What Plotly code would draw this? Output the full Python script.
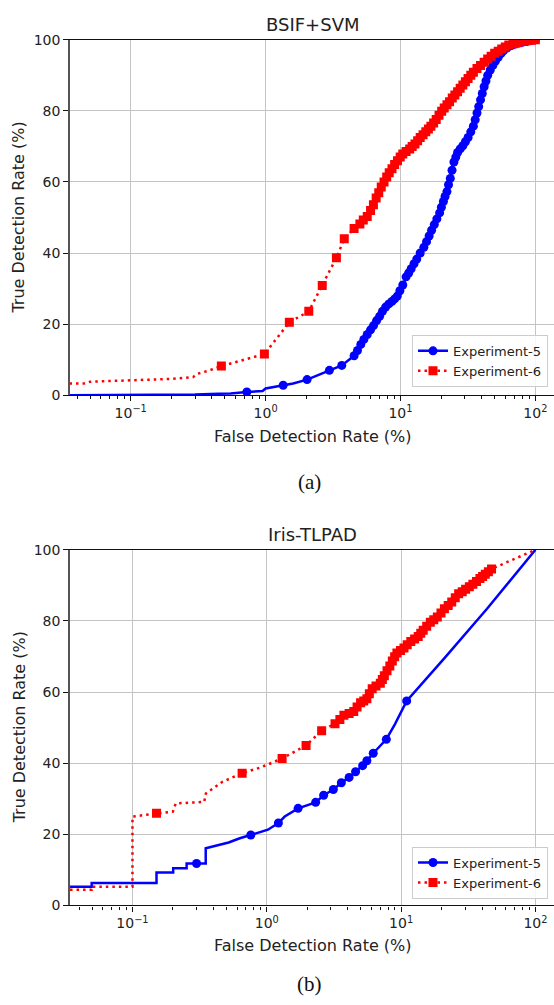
import plotly.graph_objects as go

# ---------------- data: (a) BSIF+SVM ----------------
a_exp5_fdr = [0.0352, 0.1, 0.2, 0.3, 0.45, 0.55, 0.726, 0.95, 1.0, 1.35, 1.6, 2.03, 2.5, 2.97, 3.67, 4.53,
              4.8, 5.08, 5.35, 5.67, 6.0, 6.31, 6.65, 7.0, 7.35, 7.76, 8.2, 8.65, 9.05, 9.47, 9.9, 10.4,
              11.0, 11.5, 12.0, 12.6, 13.2, 14.0, 14.9, 15.6, 16.3, 17.0, 17.8, 18.6, 19.5, 20.1, 20.8,
              21.4, 22.1, 22.7, 23.4, 24.1, 24.9, 25.7, 26.5, 27.7, 29.0, 30.3, 31.7, 33.2, 34.7, 35.8,
              36.9, 38.0, 39.2, 40.4, 41.7, 43.0, 44.3, 46.3, 48.4, 50.6, 53.0, 55.5, 58.0, 61.5, 65.5,
              69.5, 74.0, 80.0, 86.0, 92.5, 100.0]
a_exp5_tdr = [0.0, 0.0, 0.1, 0.2, 0.4, 0.5, 0.9, 1.2, 1.9, 2.8, 3.3, 4.4, 5.8, 7.0, 8.4, 11.1,
              12.6, 14.3, 15.7, 17.1, 18.4, 19.6, 21.0, 22.2, 23.6, 24.8, 25.7, 26.4, 27.1, 27.9, 29.4, 31.0,
              33.3, 34.4, 35.6, 37.0, 38.3, 40.0, 41.6, 43.2, 44.8, 46.4, 48.0, 49.6, 51.3, 52.9, 54.5,
              55.9, 57.3, 59.2, 61.0, 63.3, 65.6, 67.0, 68.3, 69.3, 70.2, 71.3, 72.5, 74.1, 75.7, 77.5,
              79.4, 81.2, 83.1, 84.9, 86.8, 88.4, 90.0, 91.5, 92.8, 94.0, 95.1, 96.1, 96.9, 97.7, 98.3,
              98.7, 99.0, 99.3, 99.5, 99.8, 100.0]
a_exp5_mark = [0, 0, 0, 0, 0, 0, 1, 0, 0, 1, 0, 1, 0, 1, 1, 1] + [1] * 67

a_exp6_fdr = [0.0352, 0.045, 0.05, 0.09, 0.2, 0.29, 0.31, 0.37, 0.47, 0.98, 1.5, 2.09, 2.63, 3.35, 3.83,
              4.53, 5.0, 5.3, 5.67, 6.0, 6.3, 6.6, 6.9, 7.2, 7.55, 7.9, 8.25, 8.65, 9.05, 9.5, 9.95, 10.4,
              11.0, 11.7, 12.2, 12.8, 13.4, 14.0, 14.7, 15.4, 16.1, 16.8, 17.6, 18.4, 19.3, 20.2, 21.1,
              22.1, 23.1, 24.2, 25.3, 26.5, 27.7, 29.0, 30.3, 31.7, 33.2, 34.7, 36.9, 39.2, 41.7, 44.3,
              47.0, 49.9, 53.0, 56.3, 59.8, 63.5, 68.5, 74.0, 80.0, 86.0, 93.0, 100.0]
a_exp6_tdr = [3.3, 3.3, 3.8, 4.2, 4.6, 5.1, 6.0, 6.8, 8.2, 11.6, 20.5, 23.6, 30.9, 38.7, 44.0,
              46.9, 48.2, 49.3, 50.3, 52.0, 53.6, 55.5, 57.0, 58.6, 60.0, 61.4, 62.6, 63.7, 64.9, 66.0, 67.0, 67.9,
              68.6, 69.3, 70.0, 70.7, 71.6, 72.5, 73.3, 74.1, 74.9, 75.7, 76.6, 77.6, 78.8, 79.9, 80.8,
              81.7, 82.6, 83.6, 84.5, 85.4, 86.4, 87.3, 88.2, 89.1, 90.0, 90.9, 91.9, 92.8, 93.7, 94.6,
              95.4, 96.2, 96.8, 97.4, 98.0, 98.5, 98.9, 99.2, 99.5, 99.7, 99.9, 100.0]
a_exp6_mark = [0, 0, 0, 0, 0, 0, 0, 0] + [1] * 66

# ---------------- data: (b) Iris-TLPAD ----------------
b_exp5_fdr = [0.0343, 0.0497, 0.0497, 0.151, 0.151, 0.201, 0.201, 0.253, 0.253, 0.30, 0.351, 0.351,
              0.41, 0.52, 0.63, 0.76, 1.02, 1.22, 1.36, 1.71, 2.31, 2.65, 3.13, 3.59, 4.1, 4.58, 5.17,
              5.56, 6.2, 7.76, 9.0, 11.0, 21.1, 43.6, 100.0]
b_exp5_tdr = [5.3, 5.3, 6.3, 6.3, 9.3, 9.3, 10.5, 10.5, 11.8, 11.8, 11.8, 16.1,
              16.7, 17.7, 18.9, 19.8, 21.3, 23.2, 25.0, 27.3, 29.0, 31.0, 32.6, 34.5, 36.0, 37.6, 39.3,
              40.7, 42.8, 46.7, 51.0, 57.5, 69.6, 83.4, 100.0]
b_exp5_mark = [0, 0, 0, 0, 0, 0, 0, 0, 0, 1, 0, 0,
               0, 0, 0, 1, 0, 1, 0, 1, 1, 1, 1, 1, 1, 1, 1,
               1, 1, 1, 0, 1, 0, 0, 0]

b_exp6_fdr = [0.0343, 0.0497, 0.0497, 0.1, 0.1, 0.151, 0.2, 0.21, 0.342, 0.352, 0.464, 0.655, 0.90,
              1.30, 1.96, 2.56, 3.22, 3.5, 3.75, 4.1, 4.44, 4.7, 4.99, 5.27, 5.56, 5.8, 6.09, 6.5, 7.0,
              7.25, 7.5, 7.85, 8.24, 8.6, 8.95, 9.3, 9.9, 10.5, 11.1, 11.8, 12.6, 13.4, 14.0, 14.6, 15.5,
              16.5, 17.5, 18.6, 19.8, 21.0, 22.4, 23.8, 25.3, 26.8, 28.5, 30.2, 32.2, 34.2, 36.4, 38.6,
              40.4, 42.3, 44.6, 47.1, 100.0]
b_exp6_tdr = [4.4, 4.4, 5.3, 5.3, 25.0, 25.9, 26.4, 28.7, 29.1, 31.5, 34.7, 37.2, 38.8,
              41.3, 45.0, 49.1, 51.1, 52.3, 53.5, 54.0, 54.5, 55.8, 57.0, 57.5, 58.1, 59.5, 60.9, 61.7, 62.5,
              63.5, 64.6, 66.0, 67.3, 68.7, 69.9, 71.0, 71.7, 72.4, 73.3, 74.2, 74.9, 75.6, 76.5, 77.4, 78.5,
              79.6, 80.3, 81.1, 82.2, 83.4, 84.3, 85.3, 86.5, 87.6, 88.2, 88.9, 89.6, 90.3, 91.1, 91.9,
              92.5, 93.1, 93.8, 94.6, 100.0]
b_exp6_mark = [0, 0, 0, 0, 0, 1, 0, 0, 0, 0, 0, 1, 0] + [1] * 51 + [0]

series_names = ["Experiment-5", "Experiment-6"]
panel_titles = ["BSIF+SVM", "Iris-TLPAD"]
panel_captions = ["(a)", "(b)"]
x_label = "False Detection Rate (%)"
y_label = "True Detection Rate (%)"
x_tickvals = [0.1, 1, 10, 100]
x_ticktext = ["10<sup>\u22121</sup>", "10<sup>0</sup>", "10<sup>1</sup>", "10<sup>2</sup>"]
y_tickvals = [0, 20, 40, 60, 80, 100]
x_minor = [m * 10 ** k for k in (-2, -1, 0, 1) for m in range(2, 10)]

# ---------------- layout constants (pixels) ----------------
W, H = 554, 1005
FONT = "DejaVu Sans"
TXT = "#222222"
BLUE = "#0000ff"
RED = "#ff0000"


def py(px):
    return 1 - px / H


def px_x(px):
    return px / W


fig = go.Figure()

panels = [
    dict(xa="x", ya="y", legend="legend",
         e5=(a_exp5_fdr, a_exp5_tdr, a_exp5_mark), e6=(a_exp6_fdr, a_exp6_tdr, a_exp6_mark)),
    dict(xa="x2", ya="y2", legend="legend2",
         e5=(b_exp5_fdr, b_exp5_tdr, b_exp5_mark), e6=(b_exp6_fdr, b_exp6_tdr, b_exp6_mark)),
]

styles = [
    dict(color=BLUE, dash="solid", symbol="circle", msize=9),
    dict(color=RED, dash="2.5px,4px", symbol="square", msize=9),
]

for p in panels:
    for key, st, name in zip(("e5", "e6"), styles, series_names):
        xs, ys, mk = p[key]
        fig.add_trace(go.Scatter(
            x=xs, y=ys, mode="lines", xaxis=p["xa"], yaxis=p["ya"], showlegend=False,
            line=dict(color=st["color"], width=2.5, dash=st["dash"]), hoverinfo="skip"))
        fig.add_trace(go.Scatter(
            x=[x for x, m in zip(xs, mk) if m], y=[y for y, m in zip(ys, mk) if m],
            mode="markers", xaxis=p["xa"], yaxis=p["ya"], showlegend=False,
            marker=dict(color=st["color"], size=st["msize"], symbol=st["symbol"], line=dict(width=0))))
        fig.add_trace(go.Scatter(
            x=[None], y=[None], mode="lines+markers", name=name, xaxis=p["xa"], yaxis=p["ya"],
            legend=p["legend"],
            line=dict(color=st["color"], width=2.5, dash=st["dash"]),
            marker=dict(color=st["color"], size=st["msize"], symbol=st["symbol"])))

xdom = [70 / W, 1.0]
common_x = dict(
    type="log", domain=xdom, tickvals=x_tickvals, ticktext=x_ticktext,
    showgrid=True, gridcolor="#c4c4c4", gridwidth=1,
    showline=True, linecolor="#111111", linewidth=1.4, mirror=True,
    ticks="outside", ticklen=5, tickcolor="#111111", tickwidth=1,
    tickfont=dict(family=FONT, size=14, color=TXT),
    minor=dict(tickvals=x_minor, ticks="outside", ticklen=3, tickcolor="#111111", tickwidth=1, showgrid=False),
    zeroline=False, fixedrange=True,
)
common_y = dict(
    range=[0, 100], tickvals=y_tickvals,
    showgrid=True, gridcolor="#c4c4c4", gridwidth=1,
    showline=True, linecolor="#555555", linewidth=1.6, mirror=False,
    ticks="outside", ticklen=5, tickcolor="#111111", tickwidth=1,
    tickfont=dict(family=FONT, size=14, color=TXT),
    zeroline=False, fixedrange=True,
)

fig.update_layout(
    width=W, height=H, margin=dict(l=0, r=0, t=0, b=0),
    paper_bgcolor="white", plot_bgcolor="white",
    font=dict(family=FONT, color=TXT),
    xaxis=dict(common_x, anchor="y", range=[-1.450, 2.138]),
    yaxis=dict(common_y, anchor="x", domain=[py(393.5), py(32.3)]),
    xaxis2=dict(common_x, anchor="y2", range=[-1.465, 2.138]),
    yaxis2=dict(common_y, anchor="x2", domain=[py(912.0), py(550.5)]),
    legend=dict(x=px_x(548), y=py(385), xanchor="right", yanchor="bottom",
                bgcolor="rgba(255,255,255,0.85)", bordercolor="#cccccc", borderwidth=1,
                font=dict(family=FONT, size=13, color=TXT), tracegroupgap=0, itemwidth=30),
    legend2=dict(x=px_x(548), y=py(905), xanchor="right", yanchor="bottom",
                 bgcolor="rgba(255,255,255,0.85)", bordercolor="#cccccc", borderwidth=1,
                 font=dict(family=FONT, size=13, color=TXT), tracegroupgap=0, itemwidth=30),
    showlegend=True,
)

ann = []
for title, ty, xly, yly, cap, capy in [
    (panel_titles[0], 16.5, 435.5, 213, panel_captions[0], 482),
    (panel_titles[1], 535, 953, 731, panel_captions[1], 992),
]:
    ann.append(dict(text=title, x=px_x(312.5), y=py(ty), xref="paper", yref="paper",
                    xanchor="center", yanchor="middle", showarrow=False,
                    font=dict(family=FONT, size=18, color=TXT)))
    ann.append(dict(text=x_label, x=px_x(313), y=py(xly), xref="paper", yref="paper",
                    xanchor="center", yanchor="middle", showarrow=False,
                    font=dict(family=FONT, size=16, color=TXT)))
    ann.append(dict(text=y_label, x=px_x(19), y=py(yly), xref="paper", yref="paper",
                    xanchor="center", yanchor="middle", showarrow=False, textangle=-90,
                    font=dict(family=FONT, size=16, color=TXT)))
    ann.append(dict(text=cap, x=px_x(309), y=py(capy), xref="paper", yref="paper",
                    xanchor="center", yanchor="middle", showarrow=False,
                    font=dict(family="Liberation Serif", size=21, color="#111111")))
fig.update_layout(annotations=ann)

fig.write_html("out.html")
